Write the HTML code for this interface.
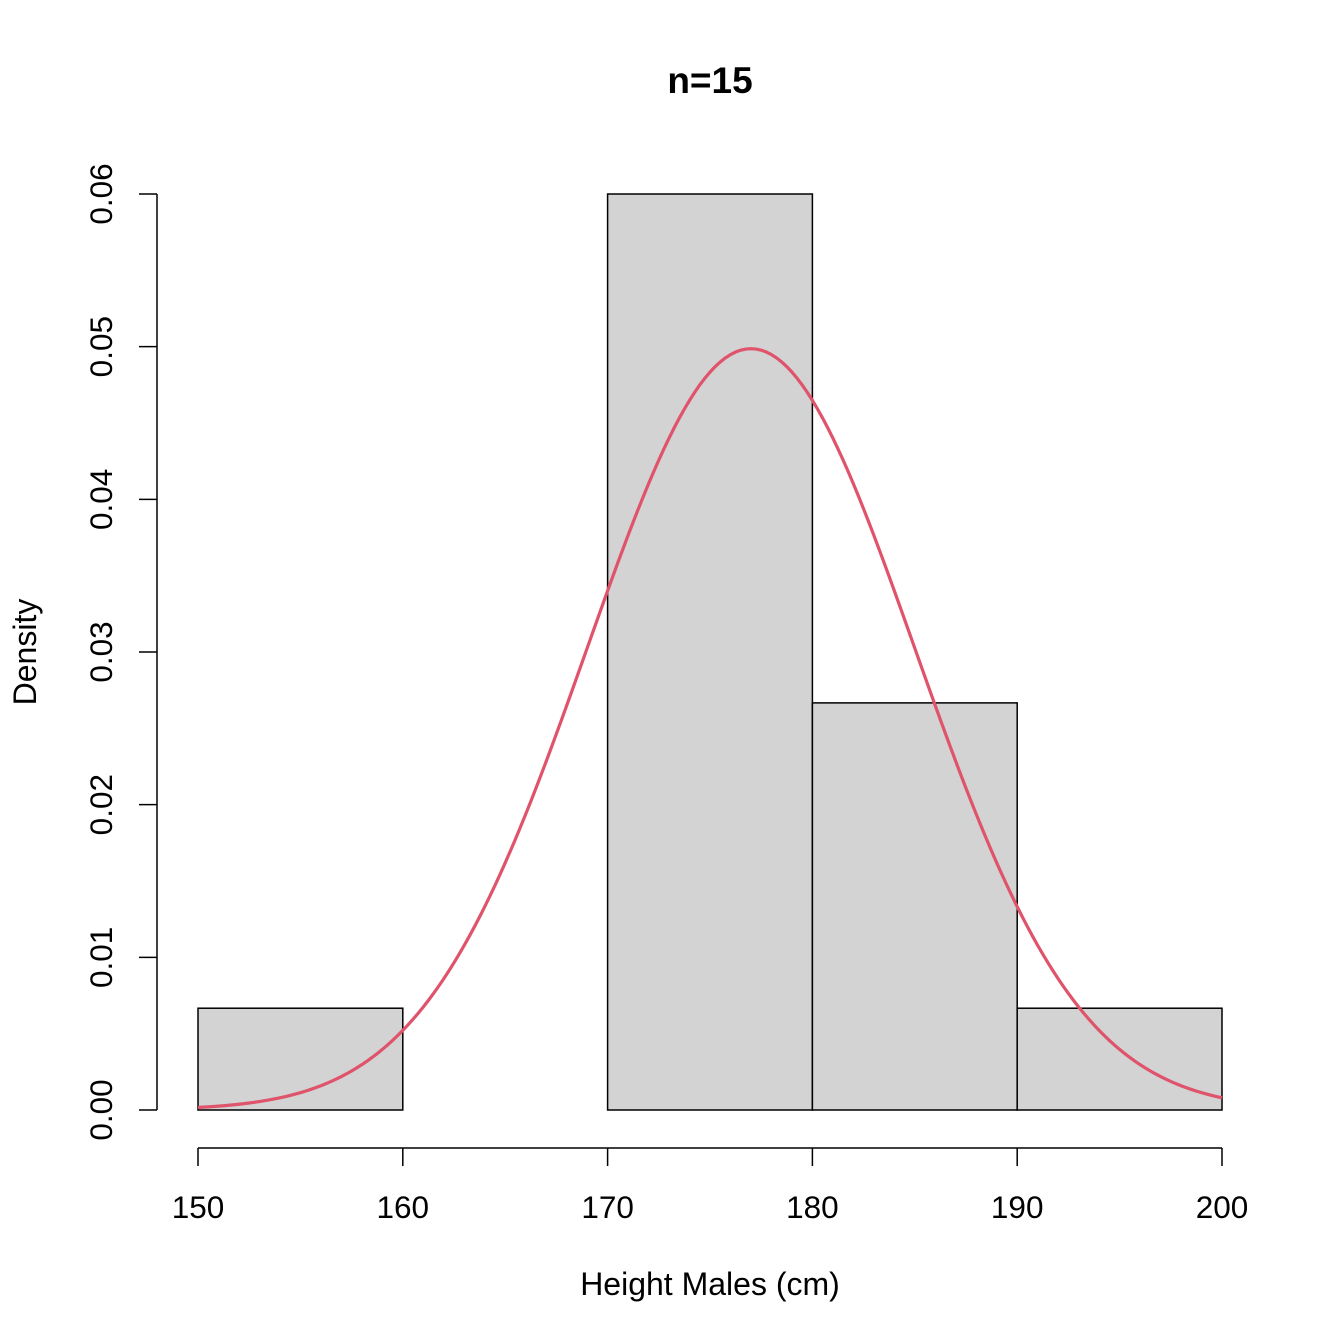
<!DOCTYPE html>
<html><head><meta charset="utf-8"><style>
html,body{margin:0;padding:0;background:#fff}
svg{display:block;font-family:"Liberation Sans",Arial,sans-serif}
</style></head><body>
<svg id="chart" width="1344" height="1344" viewBox="0 0 1344 1344">
<rect width="1344" height="1344" fill="#fff"/>
<text x="710" y="93" text-anchor="middle" font-size="37" font-weight="bold">n=15</text>
<text x="710" y="1295" text-anchor="middle" font-size="32">Height Males (cm)</text>
<text transform="translate(36,652) rotate(-90)" text-anchor="middle" font-size="32">Density</text>
<g id="bars"></g>
<g id="curve"></g>
<g id="xaxis"></g>
<g id="yaxis"></g>
</svg>
<script>
const binEdges = [150,160,170,180,190,200];
const densities = [0.006667,0,0.06,0.026667,0.006667];
const xTicks = [150,160,170,180,190,200];
const yTicks = [0,0.01,0.02,0.03,0.04,0.05,0.06];
const yTickLabels = ["0.00","0.01","0.02","0.03","0.04","0.05","0.06"];
const curveMean = 177;
const curveSd = 8;

const NS = "http://www.w3.org/2000/svg";
const X = v => 198 + (v - 150) * (1024 / 50);
const Y = v => 1110 - v * (916 / 0.06);
function mk(tag, attrs, parent){const e=document.createElementNS(NS,tag);for(const k in attrs)e.setAttribute(k,attrs[k]);parent.appendChild(e);return e;}

const bars = document.getElementById('bars');
densities.forEach((d,i)=>{
  if(d<=0) return;
  const r = mk('rect',{x:X(binEdges[i]),y:Y(d),width:X(binEdges[i+1])-X(binEdges[i]),height:Y(0)-Y(d),fill:'#d3d3d3',stroke:'#000','stroke-width':1.5},bars);
  
  
});

const cg = document.getElementById('curve');
let pts = [];
for(let x=150;x<=200.001;x+=0.25){
  const y = Math.exp(-((x-curveMean)**2)/(2*curveSd*curveSd))/(curveSd*Math.sqrt(2*Math.PI));
  pts.push(X(x).toFixed(2)+','+Y(y).toFixed(2));
}
const pl = mk('polyline',{points:pts.join(' '),fill:'none',stroke:'#DF536B','stroke-width':3.2},cg);



const xa = document.getElementById('xaxis');
const xl = mk('line',{x1:X(xTicks[0]),x2:X(xTicks[xTicks.length-1]),y1:1148,y2:1148,stroke:'#000','stroke-width':1.5},xa);


xTicks.forEach(t=>{
  const tk = mk('line',{x1:X(t),x2:X(t),y1:1148,y2:1166,stroke:'#000','stroke-width':1.5},xa);
  
  
  const tx = mk('text',{x:X(t),y:1218,'text-anchor':'middle','font-size':31.5},xa);
  tx.textContent = t;
  
  
});

const ya = document.getElementById('yaxis');
const yl = mk('line',{x1:157,x2:157,y1:Y(yTicks[0]),y2:Y(yTicks[yTicks.length-1]),stroke:'#000','stroke-width':1.5},ya);


yTicks.forEach((t,i)=>{
  const tk = mk('line',{x1:139,x2:157,y1:Y(t),y2:Y(t),stroke:'#000','stroke-width':1.5},ya);
  
  
  const tx = mk('text',{transform:`translate(112,${Y(t)}) rotate(-90)`,'text-anchor':'middle','font-size':31.5},ya);
  tx.textContent = yTickLabels[i];
  
  
});
</script>
</body></html>
